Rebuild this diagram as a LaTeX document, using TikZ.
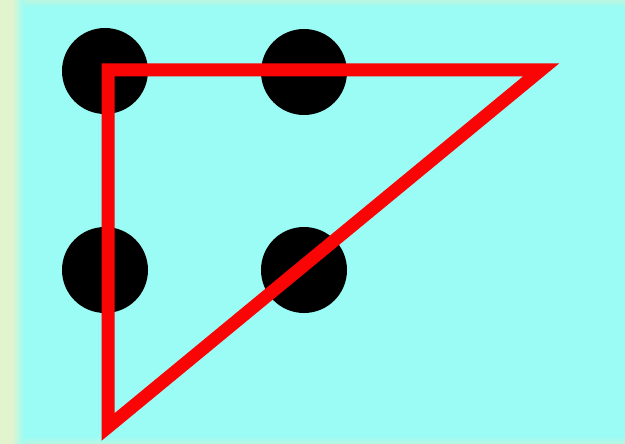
\documentclass[tikz,border=0pt]{standalone}
\definecolor{bgcyan}{RGB}{154,252,245}
\definecolor{bgedge}{RGB}{226,244,205}
\definecolor{bgrim}{RGB}{186,246,225}
\definecolor{trired}{RGB}{250,5,5}
\begin{document}
\begin{tikzpicture}[x=1pt,y=-1pt,
  dot/.style={fill=black},
  tri/.style={draw=trired,line width=13pt,line join=miter}]
\useasboundingbox (0,0) rectangle (625,444);
\fill[bgcyan] (0,0) rectangle (625,444);
\shade[top color=bgrim,bottom color=bgcyan,shading angle=0] (0,0) rectangle (625,7);
\shade[top color=bgcyan,bottom color=bgrim] (0,436) rectangle (625,444);
\fill[bgedge] (0,0) rectangle (12,444);
\shade[left color=bgedge,right color=bgcyan] (12,0) rectangle (24,444);
\fill[dot] (105,71) circle (43);
\fill[dot] (304,72) circle (43);
\fill[dot] (105,270) circle (43);
\fill[dot] (304,270) circle (43);
\coordinate (A) at (108,70);
\coordinate (B) at (541,70);
\coordinate (C) at (108,427);
\draw[tri] (A) -- (B) -- (C) -- cycle;
\end{tikzpicture}
\end{document}
